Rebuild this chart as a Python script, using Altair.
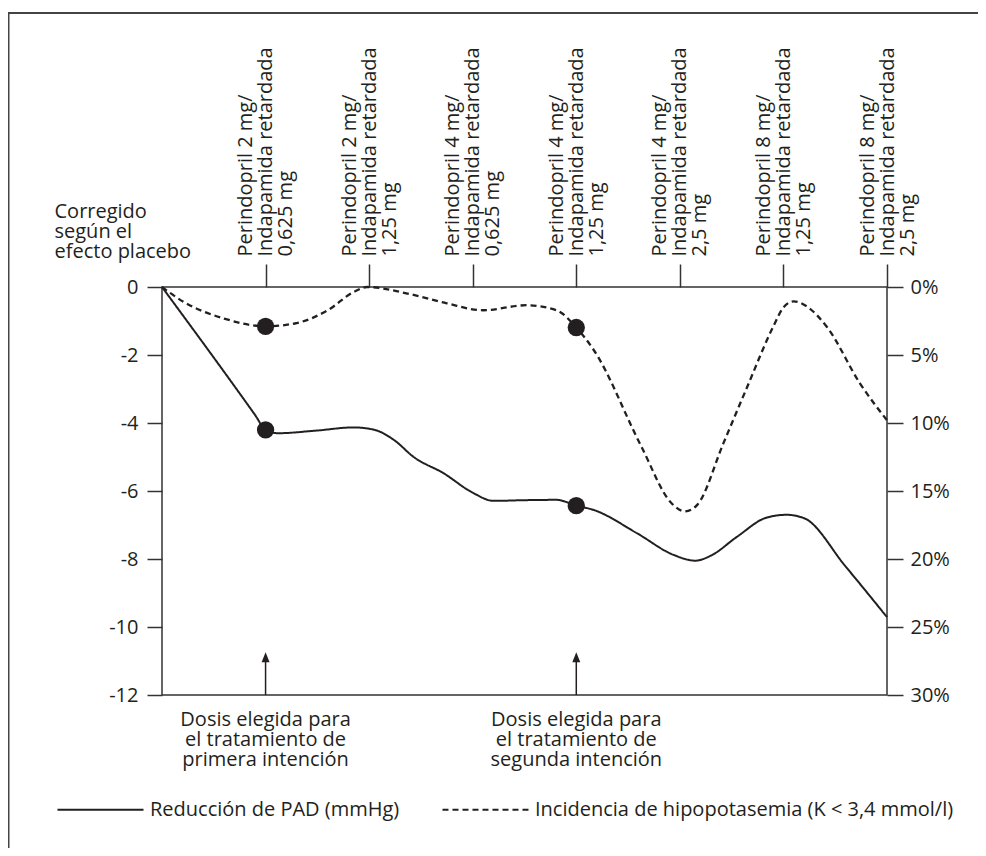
import json
import altair as alt
import pandas as pd

# ---------------- data ----------------
dose_pos = [1, 2, 3, 4, 5, 6, 7]
dose_labels = [
    ["Perindopril 2 mg/", "Indapamida retardada", "0,625 mg"],
    ["Perindopril 2 mg/", "Indapamida retardada", "1,25 mg"],
    ["Perindopril 4 mg/", "Indapamida retardada", "0,625 mg"],
    ["Perindopril 4 mg/", "Indapamida retardada", "1,25 mg"],
    ["Perindopril 4 mg/", "Indapamida retardada", "2,5 mg"],
    ["Perindopril 8 mg/", "Indapamida retardada", "1,25 mg"],
    ["Perindopril 8 mg/", "Indapamida retardada", "2,5 mg"],
]

series = ["Reducción de PAD (mmHg)", "Incidencia de hipopotasemia (K < 3,4 mmol/l)"]

# Reduction of diastolic BP (mmHg), left axis
pad_x = [0, 0.9, 1.0, 1.12, 1.5, 1.85, 2.05, 2.24, 2.43, 2.72, 3.0, 3.2, 3.5, 3.81,
         4.0, 4.17, 4.59, 4.94, 5.15, 5.3, 5.55, 5.84, 6.03, 6.2, 6.6, 7.0]
pad_v = [0, -3.77, -4.2, -4.3, -4.22, -4.13, -4.2, -4.5, -5.0, -5.48, -6.05, -6.29, -6.27, -6.26,
         -6.43, -6.56, -7.25, -7.88, -8.05, -7.9, -7.35, -6.78, -6.7, -6.8, -8.22, -9.71]

# Incidence of hypokalaemia (%), right axis
hypo_x = [0, 0.21, 0.6, 1.0, 1.3, 1.6, 1.85, 1.98, 2.37, 2.75, 3.1, 3.52, 3.81, 4.0,
          4.17, 4.62, 4.92, 5.05, 5.17, 5.42, 5.65, 5.9, 6.0, 6.1, 6.22, 6.42, 6.74, 7.0]
hypo_p = [0, 1.1, 2.32, 2.89, 2.65, 1.71, 0.37, 0.0, 0.48, 1.2, 1.71, 1.34, 1.71, 2.98,
          4.65, 11.6, 15.9, 16.5, 16.0, 11.5, 7.35, 2.94, 1.5, 1.05, 1.4, 2.94, 7.1, 9.8]

chosen_x = [1, 4]
chosen_pad = [-4.2, -6.43]
chosen_hypo = [2.89, 2.98]
arrow_base = [-12, -12]
arrow_tip = [-10.89, -10.89]
note_text = [
    "Dosis elegida para\nel tratamiento de\nprimera intención",
    "Dosis elegida para\nel tratamiento de\nsegunda intención",
]
left_title = ["Corregido", "según el", "efecto placebo"]
left_ticks = [0, -2, -4, -6, -8, -10, -12]
right_ticks = [0, 5, 10, 15, 20, 25, 30]

# ---------------- styling ----------------
FONT = "Open Sans"
FS = 20
INK = "#231f20"
AX = "#333333"

pad_df = pd.DataFrame({"x": pad_x, "v": pad_v, "s": series[0]})
hypo_df = pd.DataFrame({"x": hypo_x, "p": hypo_p, "s": series[1]})
dots_pad = pd.DataFrame({"x": chosen_x, "v": chosen_pad})
dots_hypo = pd.DataFrame({"x": chosen_x, "p": chosen_hypo})
arrows = pd.DataFrame({"x": chosen_x, "v": arrow_base, "v2": arrow_tip})
heads = pd.DataFrame({"x": chosen_x, "v": arrow_tip})
notes = pd.DataFrame({"x": chosen_x, "t": note_text})
frame_df = pd.DataFrame({"k": [0]})

label_expr = json.dumps(dose_labels, ensure_ascii=False) + "[datum.value - 1]"

x_enc = alt.X(
    "x:Q",
    scale=alt.Scale(domain=[0, 7], nice=False, zero=False),
    axis=alt.Axis(
        orient="top", values=dose_pos, title=None, domain=False, grid=False,
        tickSize=23, tickWidth=1.5, tickColor=AX,
        labelExpr=label_expr, labelAngle=270, labelAlign="left", labelBaseline="middle",
        labelPadding=8, labelLineHeight=20, labelOffset=-20, labelOverlap=False,
        labelBound=False, labelFlush=False, labelLimit=400,
        labelFont=FONT, labelFontSize=FS, labelColor=INK,
    ),
)

y_left_scale = alt.Scale(domain=[-12, 0], nice=False, zero=False)
y_left = alt.Y(
    "v:Q",
    scale=y_left_scale,
    axis=alt.Axis(
        orient="left", values=left_ticks, domain=False, grid=False,
        tickSize=15, tickWidth=1.5, tickColor=AX, labelPadding=9,
        labelExpr="'' + datum.value", labelFont=FONT, labelFontSize=FS, labelColor=INK,
        title=left_title, titleAngle=0, titleAlign="left", titleBaseline="alphabetic",
        titleX=-108, titleY=-70, titleLineHeight=20, titleFont=FONT, titleFontSize=FS,
        titleFontWeight="normal", titleColor=INK,
    ),
)

y_right = alt.Y(
    "p:Q",
    scale=alt.Scale(domain=[0, 30], reverse=True, nice=False, zero=False),
    axis=alt.Axis(
        orient="right", values=right_ticks, domain=False, grid=False, title=None,
        tickSize=16, tickWidth=1.5, tickColor=AX, labelPadding=7,
        labelExpr="datum.value + '%'", labelFont=FONT, labelFontSize=FS, labelColor=INK,
    ),
)

dash_enc = alt.StrokeDash(
    "s:N",
    scale=alt.Scale(domain=series, range=[[1, 0], [6, 4]]),
    legend=alt.Legend(
        orient="none", legendX=-106, legendY=478, direction="horizontal", title=None,
        symbolType="stroke", symbolSize=7400, symbolStrokeWidth=2, symbolStrokeColor=INK,
        labelFont=FONT, labelFontSize=FS, labelColor=INK, labelLimit=600,
        labelOffset=5, columnPadding=38,
    ),
)

pad_line = alt.Chart(pad_df).mark_line(
    color=INK, strokeWidth=2, interpolate="monotone"
).encode(x=x_enc, y=y_left, strokeDash=dash_enc)

pad_dots = alt.Chart(dots_pad).mark_circle(size=300, color=INK, opacity=1).encode(x=x_enc, y=y_left)

arrow_shaft = alt.Chart(arrows).mark_rule(color=INK, strokeWidth=1.5).encode(
    x=x_enc, y=y_left, y2="v2:Q"
)
arrow_head = alt.Chart(heads).mark_point(
    shape="M-0.8,1L0,-1L0.8,1Z", size=100, filled=True, color=INK, opacity=1
).encode(x=x_enc, y=y_left)

note_marks = alt.Chart(notes).mark_text(
    font=FONT, fontSize=FS, color=INK, align="center", baseline="middle",
    lineBreak="\n", lineHeight=20,
).encode(x=x_enc, y=alt.value(433), text="t:N")

frame = alt.Chart(frame_df).mark_rect(
    fillOpacity=0, stroke="#444444", strokeWidth=2
).encode(x=alt.value(-153.5), y=alt.value(-274), x2=alt.value(2000), y2=alt.value(2000))

hypo_line = alt.Chart(hypo_df).mark_line(
    color=INK, strokeWidth=2.3, interpolate="monotone"
).encode(x=x_enc, y=y_right, strokeDash=dash_enc)

hypo_dots = alt.Chart(dots_hypo).mark_circle(size=300, color=INK, opacity=1).encode(x=x_enc, y=y_right)

left_layer = alt.layer(frame, pad_line, arrow_shaft, arrow_head, note_marks, pad_dots)
right_layer = alt.layer(hypo_line, hypo_dots)

chart = (
    alt.layer(left_layer, right_layer)
    .resolve_scale(y="independent")
    .properties(
        width=725, height=408,
        padding={"left": 154, "top": 279, "right": 91, "bottom": 153},
        autosize=alt.AutoSizeParams(type="none"),
        background="white",
    )
    .configure_view(stroke=AX, strokeWidth=1.5)
)

chart.save("out.html", embed_options={"renderer": "svg", "actions": False})
